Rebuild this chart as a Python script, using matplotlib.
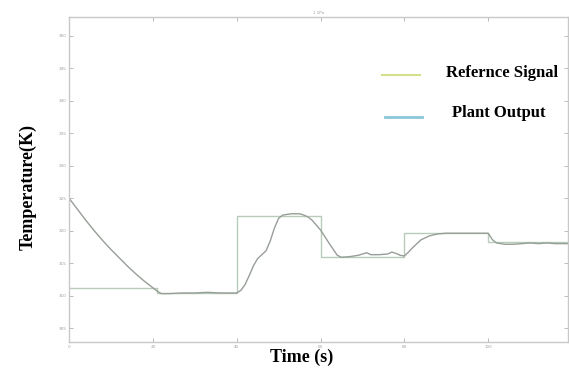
import matplotlib
matplotlib.use('Agg')
import matplotlib.pyplot as plt
from matplotlib.lines import Line2D

# reference signal (step, where='post')
refTime = [0, 21, 40, 60, 80, 100, 119]
refTemp = [311.2, 310.4, 322.3, 315.9, 319.6, 318.3, 318.3]

# plant output
plantTime = [0, 2, 4, 6, 8, 10, 12, 14, 16, 18, 20, 21, 22, 24, 27, 30, 33, 36, 40,
             41, 42, 43, 44, 45, 46, 47, 48, 49, 50, 51, 53, 55, 56, 57, 58, 60, 62, 64,
             65, 67, 69, 71, 72, 74, 76, 77, 78, 79, 80, 81, 82, 84, 86, 88, 90, 95, 100,
             101, 102, 104, 106, 108, 110, 112, 114, 116, 119]
plantTemp = [325.0, 323.3, 321.6, 320.0, 318.5, 317.1, 315.8, 314.5, 313.3, 312.2, 311.2,
             310.7, 310.3, 310.3, 310.4, 310.4, 310.5, 310.4, 310.4,
             310.8, 311.7, 313.1, 314.6, 315.7, 316.3, 316.9, 318.4, 320.4, 321.9, 322.4,
             322.6, 322.6, 322.4, 322.1, 321.6, 320.1, 318.1, 316.2,
             315.9, 316.0, 316.2, 316.6, 316.3, 316.3, 316.4, 316.7, 316.5, 316.2, 316.1,
             316.7, 317.4, 318.6, 319.2, 319.5, 319.6, 319.6, 319.6,
             318.6, 318.1, 317.9, 317.9, 318.0, 318.1, 318.0, 318.1, 318.0, 318.0]

xTicks = [0, 20, 40, 60, 80, 100]
yTicks = [305, 310, 315, 320, 325, 330, 335, 340, 345, 350]

fig = plt.figure(figsize=(5.69, 3.73), dpi=100)
ax = fig.add_axes([0.1213, 0.0831, 0.8767, 0.8713])

ax.step(refTime, refTemp, where='post', color='#b9ccb9', lw=1.0)
ax.plot(plantTime, plantTemp, color='#979e97', lw=1.0)

ax.set_xlim(0, 119)
ax.set_ylim(302.85, 352.9)
ax.set_xticks(xTicks)
ax.set_yticks(yTicks)
ax.tick_params(direction='in', length=3, width=0.6, colors='#b0b0b0',
               labelsize=3, labelcolor='#a0a0a0', top=True, right=True, pad=2)
for s in ax.spines.values():
    s.set_color('#c8c8c8')
    s.set_linewidth(1.0)
ax.set_title('1 1Pa', fontsize=3, color='#a0a0a0', pad=2)

lab = dict(family=['Liberation Serif', 'DejaVu Serif'], weight='bold', fontsize=13)
fig.text(0.05, 0.50, 'Temperature(K)', rotation=90, ha='center', va='center', **lab)
fig.text(0.53, 0.043, 'Time (s)', ha='center', va='center', **lab)

# legend drawn by hand, like the pasted legend in the picture
leg = dict(family=['Liberation Serif', 'DejaVu Serif'], weight='bold', fontsize=12)
fig.add_artist(Line2D([382/569, 420/569], [1-75/373, 1-75/373], color='#d6e08c', lw=1.5))
fig.add_artist(Line2D([385/569, 422/569], [1-117/373, 1-117/373], color='#8cc6dc', lw=2))
fig.text(446/569, 1-73/373, 'Refernce Signal', ha='left', va='center', **leg)
fig.text(452/569, 1-113/373, 'Plant Output', ha='left', va='center', **leg)

plt.savefig('out.png', dpi=100)
